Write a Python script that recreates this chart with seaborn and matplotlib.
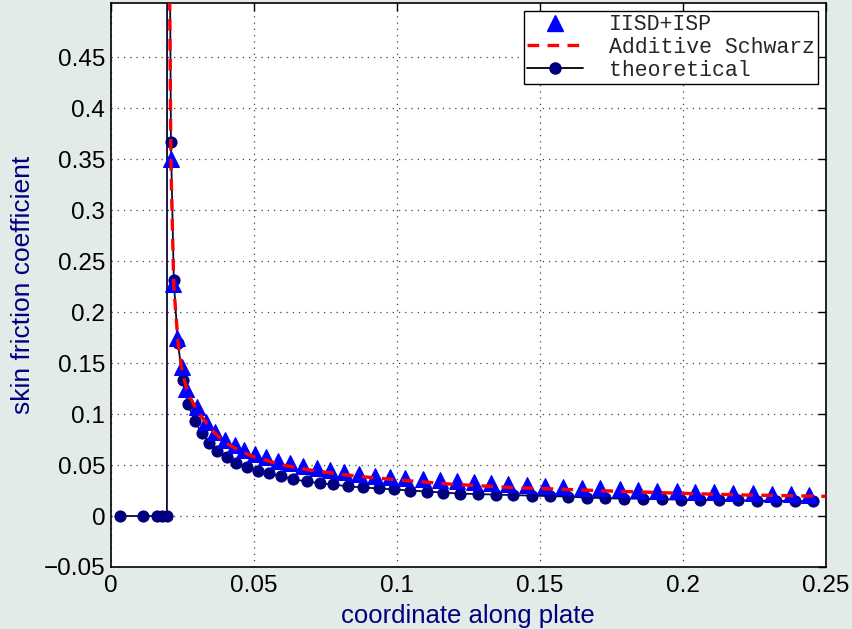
import matplotlib
matplotlib.use("Agg")
import matplotlib.pyplot as plt
import seaborn as sns
import pandas as pd
from matplotlib.lines import Line2D

# ---------------- data ----------------
theo_x = [0.0031, 0.0112, 0.0161, 0.0178, 0.0196, 0.0197,
          0.0210, 0.0220, 0.0234, 0.0252, 0.0269, 0.0294, 0.0318, 0.0343, 0.0371,
          0.0406, 0.0437, 0.0476, 0.0514, 0.0552, 0.0594, 0.0636, 0.0685, 0.0731,
          0.0776, 0.0829, 0.0881, 0.0937, 0.0990, 0.1045, 0.1105, 0.1161, 0.1220,
          0.1283, 0.1346, 0.1406, 0.1472, 0.1535, 0.1598, 0.1664, 0.1727, 0.1794,
          0.1860, 0.1927, 0.1993, 0.2059, 0.2126, 0.2192, 0.2259, 0.2325, 0.2392,
          0.2455]
theo_y = [0.0, 0.0, 0.0, 0.0, 0.0, 1.0,
          0.367, 0.231, 0.170, 0.133, 0.110, 0.093, 0.081, 0.072, 0.064,
          0.058, 0.052, 0.048, 0.044, 0.042, 0.039, 0.036, 0.034, 0.032,
          0.031, 0.029, 0.028, 0.027, 0.026, 0.025, 0.024, 0.023, 0.022,
          0.0215, 0.021, 0.0205, 0.020, 0.0195, 0.019, 0.018, 0.0175, 0.017,
          0.017, 0.0165, 0.016, 0.0158, 0.0155, 0.0153, 0.015, 0.0148, 0.0146,
          0.0143]

iisd_x = [0.0210, 0.0217, 0.0231, 0.0248, 0.0262, 0.0301, 0.0332, 0.0364, 0.0399,
          0.0434, 0.0465, 0.0503, 0.0542, 0.0584, 0.0626, 0.0671, 0.0720, 0.0766,
          0.0815, 0.0867, 0.0923, 0.0976, 0.1028, 0.1091, 0.1150, 0.1210, 0.1269,
          0.1329, 0.1388, 0.1455, 0.1517, 0.1580, 0.1647, 0.1710, 0.1780, 0.1843,
          0.1909, 0.1979, 0.2042, 0.2108, 0.2175, 0.2245, 0.2311, 0.2378, 0.2441]
iisd_y = [0.350, 0.228, 0.175, 0.146, 0.125, 0.107, 0.092, 0.082, 0.075,
          0.070, 0.065, 0.061, 0.058, 0.054, 0.052, 0.049, 0.047, 0.045,
          0.043, 0.041, 0.039, 0.038, 0.037, 0.036, 0.035, 0.034, 0.033,
          0.032, 0.031, 0.030, 0.029, 0.028, 0.0275, 0.027, 0.0265, 0.0255,
          0.025, 0.0245, 0.024, 0.0235, 0.023, 0.0225, 0.022, 0.0215, 0.021]

asw_x = [0.0203, 0.0210, 0.0220, 0.0235, 0.0250, 0.0270, 0.0300, 0.0350, 0.0400,
         0.0450, 0.0500, 0.0600, 0.0700, 0.0800, 0.0900, 0.1000, 0.1200, 0.1400,
         0.1600, 0.1800, 0.2000, 0.2200, 0.2500]
asw_y = [0.600, 0.345, 0.225, 0.170, 0.140, 0.120, 0.104, 0.085, 0.072,
         0.064, 0.058, 0.050, 0.045, 0.041, 0.038, 0.0355, 0.031, 0.028,
         0.026, 0.024, 0.0222, 0.0207, 0.0193]

xticks = [0, 0.05, 0.1, 0.15, 0.2, 0.25]
xtick_labels = ["0", "0.05", "0.1", "0.15", "0.2", "0.25"]
yticks = [-0.05, 0, 0.05, 0.1, 0.15, 0.2, 0.25, 0.3, 0.35, 0.4, 0.45]
ytick_labels = ["\u22120.05", "0", "0.05", "0.1", "0.15", "0.2", "0.25",
                "0.3", "0.35", "0.4", "0.45"]

# ---------------- style ----------------
sns.set_theme(style="white")
plt.rcParams['font.family'] = ['Liberation Sans', 'DejaVu Sans']

BG = "#e3ebe8"
NAVY = "#00007f"
DASH = (0, (3.5, 2.5))

fig = plt.figure(figsize=(8.53, 6.29), dpi=100, facecolor=BG)
ax = fig.add_axes([0.130, 0.0986, 0.838, 0.8964])
ax.set_facecolor("white")

df_t = pd.DataFrame({"x": theo_x, "y": theo_y})
df_i = pd.DataFrame({"x": iisd_x, "y": iisd_y})
df_a = pd.DataFrame({"x": asw_x, "y": asw_y})

sns.lineplot(data=df_t, x="x", y="y", ax=ax, sort=False, estimator=None,
             color="#0a0a3a", lw=1.3, marker="o", markersize=8,
             markerfacecolor=NAVY, markeredgecolor=NAVY, zorder=3)
sns.lineplot(data=df_i, x="x", y="y", ax=ax, sort=False, estimator=None,
             color="blue", lw=0, marker="^", markersize=11,
             markerfacecolor="blue", markeredgecolor="blue", zorder=4)
sns.lineplot(data=df_a, x="x", y="y", ax=ax, sort=False, estimator=None,
             color="red", lw=2.4, linestyle=DASH, zorder=5)

ax.set_xlim(0, 0.25)
ax.set_ylim(-0.05, 0.503)
ax.set_xticks(xticks)
ax.set_xticklabels(xtick_labels)
ax.set_yticks(yticks)
ax.set_yticklabels(ytick_labels)
ax.tick_params(direction="in", length=6, width=1, top=True, right=True,
               labelsize=17.5, colors="black", pad=4)
ax.tick_params(axis="x", pad=6)

ax.grid(True, linestyle=(0, (1, 4)), color="#444444", linewidth=0.9)
ax.set_axisbelow(True)
for s in ax.spines.values():
    s.set_color("black")
    s.set_linewidth(1.2)
    s.set_visible(True)

ax.set_xlabel("coordinate along plate", color=NAVY, fontsize=18.5, labelpad=5)
ax.set_ylabel("skin friction coefficient", color=NAVY, fontsize=19, labelpad=6)

handles = [
    Line2D([], [], lw=0, marker="^", markersize=11, color="blue"),
    Line2D([], [], color="red", lw=2.4, linestyle=DASH),
    Line2D([], [], color="black", lw=1.3, marker="o", markersize=8,
           markerfacecolor=NAVY, markeredgecolor=NAVY),
]
leg = ax.legend(handles, ["IISD+ISP", "Additive Schwarz", "theoretical"],
                loc="upper right", bbox_to_anchor=(0.989, 0.986),
                prop={"family": ["Liberation Mono", "DejaVu Sans Mono"], "size": 15.5},
                frameon=True, fancybox=False, shadow=False, framealpha=1,
                edgecolor="black", borderpad=0.15, labelspacing=0.08,
                handlelength=2.6, handletextpad=1.2, borderaxespad=0)
leg.get_frame().set_linewidth(1.0)

fig.savefig("out.png", dpi=100, facecolor=BG)
